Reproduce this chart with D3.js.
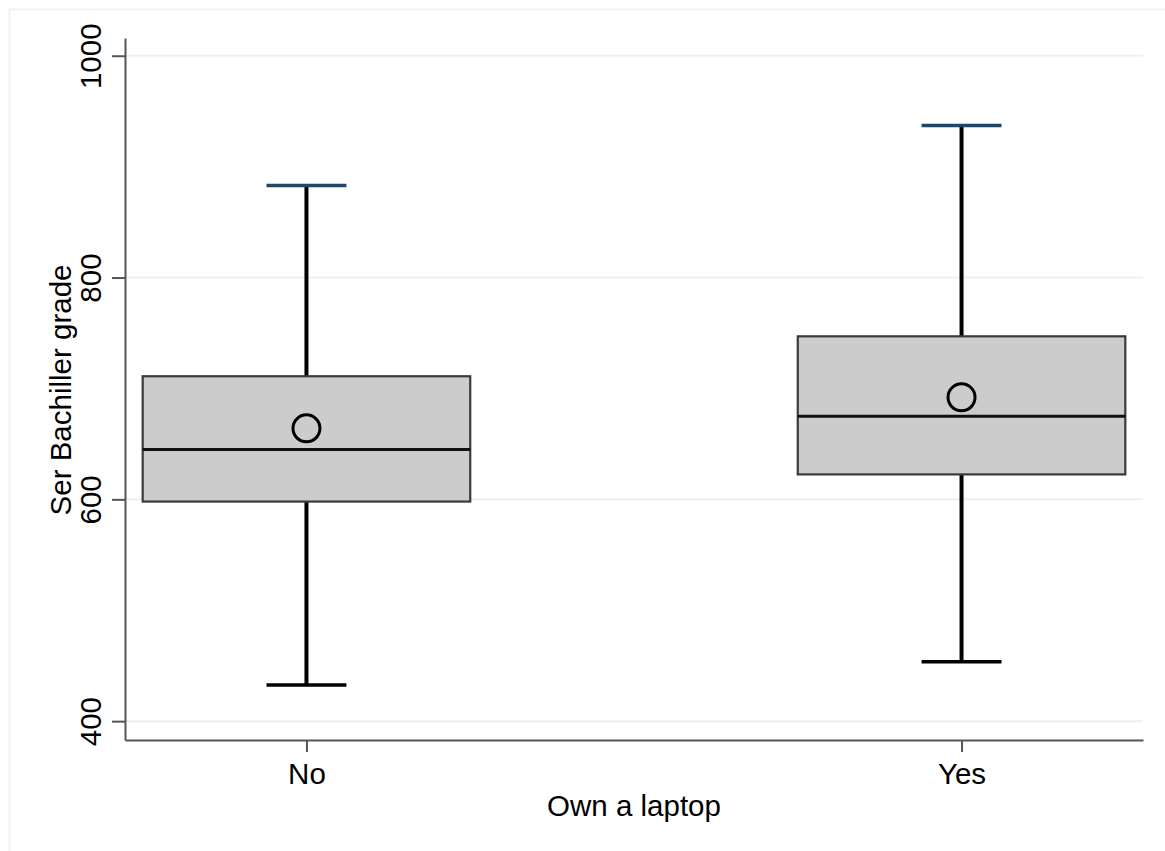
<!DOCTYPE html>
<html>
<head>
<meta charset="utf-8">
<script src="https://cdn.jsdelivr.net/npm/d3@7"></script>
<style>
  html, body { margin: 0; padding: 0; background: #fff; }
  svg { display: block; font-family: "Liberation Sans", Arial, sans-serif; }
</style>
</head>
<body>
<svg id="chart" width="1165" height="851"></svg>
<script>
// Box-plot summaries of the Ser Bachiller grade, by laptop ownership
const categories = ["No", "Yes"];
const whiskerLow  = [432.5, 453.5];
const quartile1   = [598, 622.5];
const medians     = [645, 675];
const quartile3   = [711, 747];
const whiskerHigh = [883, 937];
const means       = [664, 692];
const yTicks      = [400, 600, 800, 1000];

const svg = d3.select("#chart");

// outer graph-region frame
svg.append("path")
  .attr("d", "M9.5,851 V9.5 H1165")
  .attr("fill", "none")
  .attr("stroke", "#edf2f3")
  .attr("stroke-width", 2);

const plotLeft = 125, plotRight = 1143, plotTop = 38, plotBottom = 740;

const y = d3.scaleLinear().domain([383, 1016]).range([plotBottom, plotTop]);
const x = d3.scalePoint().domain(categories).range([plotLeft, plotRight]).padding(0.277);
const step = x.step();
const boxHalf = step * 0.25;
const capHalf = step * 0.061;

// horizontal grid lines
svg.append("g").selectAll("line").data(yTicks).join("line")
  .attr("x1", plotLeft).attr("x2", plotRight)
  .attr("y1", d => y(d)).attr("y2", d => y(d))
  .attr("stroke", "#eaf1f2").attr("stroke-width", 2);

const data = categories.map((c, i) => ({
  cat: c, lo: whiskerLow[i], q1: quartile1[i], med: medians[i],
  q3: quartile3[i], hi: whiskerHigh[i], mean: means[i]
}));

const g = svg.append("g").selectAll("g").data(data).join("g");

// whiskers
g.append("line")
  .attr("x1", d => x(d.cat)).attr("x2", d => x(d.cat))
  .attr("y1", d => y(d.q3)).attr("y2", d => y(d.hi))
  .attr("stroke", "#000").attr("stroke-width", 4);
g.append("line")
  .attr("x1", d => x(d.cat)).attr("x2", d => x(d.cat))
  .attr("y1", d => y(d.q1)).attr("y2", d => y(d.lo))
  .attr("stroke", "#000").attr("stroke-width", 4);

// caps
g.append("line")
  .attr("x1", d => x(d.cat) - capHalf).attr("x2", d => x(d.cat) + capHalf)
  .attr("y1", d => y(d.hi)).attr("y2", d => y(d.hi))
  .attr("stroke", "#1a476f").attr("stroke-width", 3.5);
g.append("line")
  .attr("x1", d => x(d.cat) - capHalf).attr("x2", d => x(d.cat) + capHalf)
  .attr("y1", d => y(d.lo)).attr("y2", d => y(d.lo))
  .attr("stroke", "#000").attr("stroke-width", 3.5);

// boxes
g.append("rect")
  .attr("x", d => x(d.cat) - boxHalf)
  .attr("width", boxHalf * 2)
  .attr("y", d => y(d.q3))
  .attr("height", d => y(d.q1) - y(d.q3))
  .attr("fill", "#cccccc")
  .attr("stroke", "#3a3a3a").attr("stroke-width", 2.2);

// medians
g.append("line")
  .attr("x1", d => x(d.cat) - boxHalf).attr("x2", d => x(d.cat) + boxHalf)
  .attr("y1", d => y(d.med)).attr("y2", d => y(d.med))
  .attr("stroke", "#111").attr("stroke-width", 3);

// means
g.append("circle")
  .attr("cx", d => x(d.cat)).attr("cy", d => y(d.mean))
  .attr("r", 13.5)
  .attr("fill", "none")
  .attr("stroke", "#000").attr("stroke-width", 3);

// y axis
const yAxis = svg.append("g")
  .attr("transform", `translate(${plotLeft},0)`)
  .call(d3.axisLeft(y).tickValues(yTicks).tickSize(13).tickSizeOuter(0).tickPadding(0).tickFormat(d3.format("d")));
yAxis.select(".domain").attr("stroke", "#555").attr("stroke-width", 2);
yAxis.selectAll(".tick line").attr("stroke", "#555").attr("stroke-width", 2);
yAxis.selectAll(".tick text")
  .attr("x", null).attr("dy", null)
  .attr("transform", "translate(-24,0) rotate(-90)")
  .attr("text-anchor", "middle")
  .attr("fill", "#000")
  .style("font-size", "29.5px");

// x axis
const xAxis = svg.append("g")
  .attr("transform", `translate(0,${plotBottom})`)
  .call(d3.axisBottom(x).tickSize(12).tickSizeOuter(0).tickPadding(11));
xAxis.select(".domain").attr("stroke", "#555").attr("stroke-width", 2.2);
xAxis.selectAll(".tick line").attr("stroke", "#555").attr("stroke-width", 2);
xAxis.selectAll(".tick text").attr("fill", "#000").style("font-size", "29.5px");

// axis titles
svg.append("text")
  .attr("transform", "translate(71,390) rotate(-90)")
  .attr("text-anchor", "middle")
  .style("font-size", "29.5px")
  .text("Ser Bachiller grade");

svg.append("text")
  .attr("x", (plotLeft + plotRight) / 2)
  .attr("y", 816)
  .attr("text-anchor", "middle")
  .style("font-size", "29.5px")
  .text("Own a laptop");
</script>
</body>
</html>
